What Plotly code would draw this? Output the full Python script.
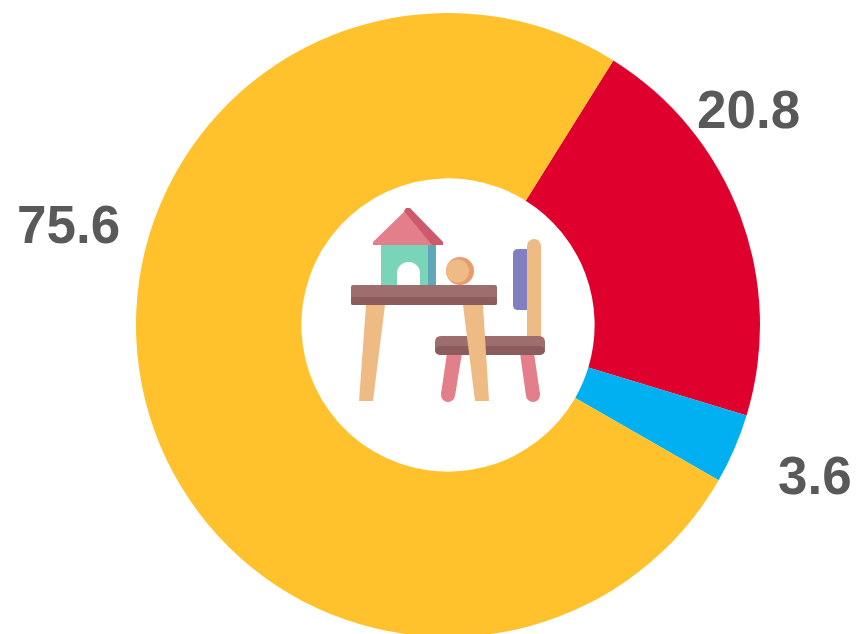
import plotly.graph_objects as go

labels = ["Red", "Blue", "Yellow"]
values = [20.8, 3.6, 75.6]
colors = ["#E0002D", "#00B0F0", "#FFC22D"]
value_labels = ["20.8", "3.6", "75.6"]

W, H = 859, 644  # slightly taller than the window: the ring runs off the bottom edge


def X(p):
    return p / W


def Y(p):
    return 1 - p / H


def pt(x, y):
    return f"{X(x):.5f},{Y(y):.5f}"


def poly(points, color):
    path = "M " + " L ".join(pt(x, y) for x, y in points) + " Z"
    return dict(type="path", xref="paper", yref="paper", path=path,
                fillcolor=color, line=dict(width=0), layer="above")


def rrect(x0, y0, x1, y1, color, r=2, rl=None):
    rl = r if rl is None else rl
    path = (f"M {pt(x0 + rl, y0)} L {pt(x1 - r, y0)} Q {pt(x1, y0)} {pt(x1, y0 + r)} "
            f"L {pt(x1, y1 - r)} Q {pt(x1, y1)} {pt(x1 - r, y1)} "
            f"L {pt(x0 + rl, y1)} Q {pt(x0, y1)} {pt(x0, y1 - rl)} "
            f"L {pt(x0, y0 + rl)} Q {pt(x0, y0)} {pt(x0 + rl, y0)} Z")
    return dict(type="path", xref="paper", yref="paper", path=path,
                fillcolor=color, line=dict(width=0), layer="above")


def circle(cx, cy, r, color):
    return dict(type="circle", xref="paper", yref="paper",
                x0=X(cx - r), x1=X(cx + r), y0=Y(cy + r), y1=Y(cy - r),
                fillcolor=color, line=dict(width=0), layer="above")


ROOF, ROOF_D = "#E27F8A", "#CC5A6C"
GREEN, TEAL = "#7AD5B8", "#5FA8B8"
WOOD, ORANGE = "#EFBB85", "#E89B6E"
TOP, TOP_D = "#9E6E6E", "#8A5C5C"
PURPLE = "#8080C0"

shapes = [
    rrect(381, 244, 428, 285, GREEN, 0),
    rrect(428, 244, 436, 285, TEAL, 0),
    circle(408.5, 273.5, 11.5, "#FFFFFF"),
    rrect(397, 273, 420, 285, "#FFFFFF", 0),
    poly([(408, 208), (443, 242), (443, 245), (373, 245), (373, 242)], ROOF),
    poly([(404, 211), (406, 208), (410, 208), (443, 242), (443, 245), (432, 245)], ROOF_D),
    circle(460, 271, 14, ORANGE),
    circle(457.5, 271, 11.5, WOOD),
    poly([(366, 305), (385, 305), (373, 401), (359, 401)], WOOD),
    rrect(351, 285, 497, 305, TOP, 2),
    rrect(351, 297, 497, 305, TOP_D, 2),
    rrect(513, 249, 530, 310, PURPLE, 0, rl=5),
    rrect(527, 246, 541, 337, WOOD, 0),
    circle(534, 246, 7, WOOD),
    poly([(447, 353), (462, 353), (455, 396), (441, 394)], ROOF),
    circle(448, 395, 7, ROOF),
    poly([(520, 353), (534, 353), (540, 394), (526, 396)], ROOF),
    circle(533, 395, 7, ROOF),
    rrect(435, 336, 545, 355, TOP, 6),
    rrect(435, 346, 545, 355, TOP_D, 6),
    poly([(463, 305), (483, 305), (489, 401), (475, 401)], WOOD),
]

label_positions = [(748, 110), (814.5, 475.5), (68, 224)]
annotations = [
    dict(text=f"<b>{t}</b>", x=X(px), y=Y(py), xref="paper", yref="paper", showarrow=False,
         xanchor="center", yanchor="middle",
         font=dict(size=53, color="#595959", family="Liberation Sans"))
    for t, (px, py) in zip(value_labels, label_positions)
]

fig = go.Figure(go.Pie(
    labels=labels,
    values=values,
    hole=0.47,
    sort=False,
    direction="clockwise",
    rotation=32,
    marker=dict(colors=colors, line=dict(width=0)),
    textinfo="none",
    showlegend=False,
    domain=dict(x=[X(136), X(760)], y=[Y(637), Y(13)]),
))
fig.update_layout(
    width=W, height=H,
    autosize=False,
    margin=dict(l=0, r=0, t=0, b=0),
    paper_bgcolor="white",
    shapes=shapes,
    annotations=annotations,
)
fig.write_html(
    "out.html",
    config=dict(displayModeBar=False),
    post_script="document.body.style.margin='0';document.documentElement.style.overflow='hidden';document.body.style.overflow='hidden';",
)
